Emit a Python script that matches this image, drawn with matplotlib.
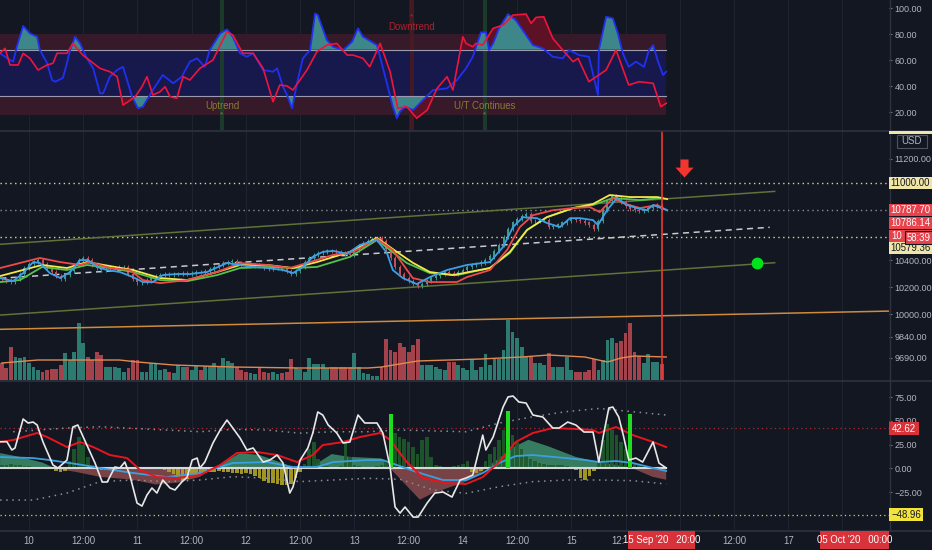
import numpy as np
import matplotlib
matplotlib.use("Agg")
import matplotlib.pyplot as plt
from matplotlib.lines import Line2D
from matplotlib.patches import Rectangle
from matplotlib.ticker import NullLocator

# ---- data (hours since 10 Sep 00:00) ----
candle_h = np.arange(-6, 141)
closes = [10262, 10250, 10238, 10262, 10300, 10345,
          10370, 10390, 10400,
          10375, 10345, 10310, 10280, 10262,
          10290, 10320, 10365, 10405, 10420,
          10400, 10370, 10345, 10330,
          10335, 10340, 10345, 10348, 10352,
          10300, 10260, 10235,
          10240, 10250, 10265, 10280, 10290, 10300,
          10290, 10295, 10300, 10305, 10295, 10305, 10315, 10310,
          10320, 10335, 10350, 10365, 10380, 10390, 10395,
          10380, 10365, 10355, 10360, 10365, 10355, 10345, 10338,
          10342, 10345, 10335, 10320, 10300,
          10320, 10350, 10390, 10420, 10440, 10455, 10465, 10475,
          10470, 10462, 10455, 10448, 10440,
          10480, 10510, 10530, 10545, 10560, 10570,
          10545, 10490, 10420, 10350, 10300, 10270, 10245, 10225, 10210,
          10225, 10245, 10265, 10285, 10300, 10315,
          10305, 10295,
          10310, 10330, 10350, 10365, 10375, 10385, 10400, 10430,
          10470, 10520, 10580, 10640, 10690, 10720, 10740, 10755,
          10700, 10705, 10710, 10712, 10660,
          10665, 10675, 10690, 10705, 10720,
          10712, 10700, 10690, 10670, 10640,
          10700, 10790, 10860, 10900,
          10880, 10850, 10820, 10800, 10790, 10780,
          10790, 10805, 10820, 10830, 10787.7]
first_open = 10270
volume = [17, 12, 33, 23, 22, 23, 17, 13, 10, 8, 10, 11, 11, 15,
          27, 20, 28, 57, 37, 23, 20, 28, 25, 13, 13, 13, 12, 8,
          12, 20, 20, 8, 8, 17, 17, 10, 11, 8, 7, 15, 13, 13,
          10, 14, 10, 14, 14, 17, 13, 22, 19, 17, 13, 10, 8, 7,
          6, 13, 8, 7, 8, 6, 7, 8, 21, 12, 11, 8, 22, 16,
          16, 16, 12, 13, 13, 13, 13, 13, 27, 13, 7, 6, 4, 4,
          13, 41, 30, 28, 37, 33, 28, 35, 41, 15, 15, 15, 13, 11,
          10, 18, 18, 15, 12, 10, 20, 10, 13, 26, 15, 21, 21, 30,
          60, 48, 42, 33, 23, 23, 17, 17, 15, 27, 13, 13, 13, 23,
          10, 8, 8, 8, 10, 21, 10, 20, 40, 42, 37, 39, 47, 57,
          28, 24, 17, 26, 18, 18, 16]
vol_ma_h = [-6, 2, 20, 24, 32, 45, 60, 75, 78, 82, 86, 100, 109, 115, 123, 128, 131, 134, 141]
vol_ma = [17, 20, 20, 18, 15, 13, 12, 12, 13, 16, 19, 21, 23, 25, 23, 18, 22, 24, 23]

# price moving averages
ma_blue_h = [-6.4, -3.5, -1.3, 0.9, 2.4, 4.6, 6.9, 9.1, 11.3, 13.1, 15.0, 17.3, 20.1, 23.0, 25.2, 27.4,
             29.6, 32.7, 35.6, 39.4, 43.8, 46.7, 49.6, 52.7, 56.2, 58.4, 60.6, 62.8, 65.0, 67.3, 70.4,
             73.2, 77.0, 79.2, 80.5, 82.7, 85.8, 88.7, 92.5, 96.9, 102.0, 104.9, 107.1, 109.3, 112.4,
             114.6, 117.5, 119.7, 121.9, 124.8, 125.9, 127.9, 130.1, 132.3, 134.5, 136.7, 138.1, 141.2]
ma_blue = [10268, 10245, 10305, 10388, 10381, 10305, 10268, 10313, 10403, 10403, 10351, 10328, 10313,
           10275, 10238, 10238, 10290, 10298, 10298, 10313, 10381, 10366, 10351, 10343, 10328, 10305,
           10351, 10427, 10465, 10473, 10450, 10518, 10556, 10457, 10328, 10268, 10223, 10275, 10328,
           10366, 10388, 10503, 10656, 10733, 10725, 10687, 10656, 10725, 10725, 10710, 10671, 10787,
           10883, 10828, 10804, 10787, 10828, 10787]
ma_red_h = [-6.4, -2.0, 2.4, 6.9, 11.3, 13.5, 17.9, 22.3, 25.2, 29.0, 35.0, 41.6, 46.7, 52.7, 57.7, 62.2,
            67.3, 71.7, 77.0, 80.5, 84.9, 88.7, 94.7, 96.9, 102.0, 105.8, 108.6, 111.5, 115.9, 120.4,
            124.1, 126.3, 129.2, 131.4, 135.2, 139.0, 141.2]
ma_red = [10343, 10381, 10419, 10388, 10366, 10388, 10343, 10328, 10253, 10230, 10253, 10313, 10381,
          10366, 10343, 10388, 10442, 10465, 10564, 10480, 10268, 10238, 10238, 10275, 10328, 10480,
          10656, 10748, 10787, 10804, 10812, 10772, 10883, 10843, 10804, 10828, 10787]
ma_yellow_h = [-6.4, 2.9, 8.4, 12.8, 17.9, 23.0, 29.0, 35.0, 41.6, 46.7, 52.7, 58.4, 63.7, 71.0, 77.0,
               81.4, 85.0, 88.7, 93.8, 102.0, 106.4, 110.2, 114.6, 120.4, 124.8, 128.5, 133.0, 139.0, 141.2]
ma_yellow = [10283, 10366, 10343, 10388, 10358, 10328, 10268, 10253, 10313, 10366, 10366, 10343, 10388,
             10465, 10572, 10465, 10381, 10313, 10290, 10343, 10465, 10633, 10733, 10804, 10836, 10907,
             10891, 10891, 10875]
ma_green_h = [-6.4, -2.0, 2.9, 8.4, 12.8, 17.9, 23.0, 29.0, 35.0, 41.6, 46.7, 52.7, 58.4, 63.7, 71.0,
              77.0, 83.6, 88.7, 94.7, 102.0, 106.4, 110.2, 114.6, 120.4, 124.8, 129.2, 135.2, 139.6]
ma_green = [10238, 10253, 10351, 10328, 10366, 10343, 10313, 10253, 10245, 10290, 10343, 10351, 10343,
            10351, 10427, 10556, 10381, 10305, 10290, 10343, 10457, 10633, 10733, 10804, 10828, 10883,
            10867, 10883]

# drawn lines on the price pane: (start h, start price, end h, end price)
channel_top = (-6.42, 10523, 165.0, 10936)
channel_bot = (-6.42, 9995, 165.0, 10383)
mid_dashed = (-6.42, 10266, 163.9, 10654)
support_line = (-6.42, 9892, 190.3, 10024)
level_hi = 11000.0
level_lo = 10579.36
last_price = 10787.70
bar_time = 140
arrow_at = (144.9, 11123)
dot_at = (161.1, 10383)

# top oscillator
osc_blue_h = [-6.4, -5.3, -3.5, -2.7, -1.3, 0.2, 1.8, 2.4, 4.0, 5.1, 5.8, 7.5, 8.4, 9.1, 10.2, 11.3,
              12.8, 14.2, 15.7, 16.4, 17.9, 19.5, 20.8, 22.8, 24.1, 25.2, 27.4, 29.6, 31.9, 33.8, 35.6,
              37.2, 38.9, 40.0, 42.3, 43.8, 45.1, 46.7, 48.2, 49.6, 51.8, 54.0, 54.9, 56.2, 57.1, 58.2,
              59.3, 60.6, 62.2, 63.3, 63.9, 65.9, 67.3, 69.5, 71.5, 72.8, 73.9, 77.0, 79.2, 80.5, 81.4,
              82.1, 83.2, 85.0, 87.2, 89.4, 92.5, 94.7, 96.7, 98.2, 100.0, 101.1, 101.8, 102.7, 104.0,
              106.0, 107.7, 111.5, 113.7, 115.9, 118.1, 119.5, 121.7, 123.9, 125.9, 126.1, 127.7, 129.2,
              130.3, 131.4, 132.7, 134.3, 136.1, 137.2, 138.1, 139.2, 140.3, 141.0]
osc_blue = [65.2, 62.5, 58.7, 70.2, 86.2, 80.5, 77.9, 67.7, 57.7, 44.6, 43.3, 46.2, 57.7, 67.7, 77.9,
            72.8, 61.3, 53.6, 34.4, 34.4, 47.2, 52.3, 54.8, 31.8, 22.8, 24.1, 36.9, 48.5, 42.1, 47.2,
            58.7, 61.3, 54.8, 67.7, 80.5, 83.6, 77.9, 65.2, 62.5, 65.2, 52.3, 51.0, 53.6, 39.5, 33.1,
            22.8, 42.1, 61.3, 67.7, 95.9, 94.6, 75.4, 70.2, 67.7, 74.1, 84.4, 77.9, 71.5, 42.1, 24.1,
            15.2, 20.2, 24.1, 21.5, 29.2, 36.9, 38.2, 44.6, 53.6, 62.5, 81.3, 81.3, 67.7, 72.8, 84.4,
            95.4, 90.8, 71.5, 69.0, 62.5, 61.3, 67.7, 63.8, 62.5, 33.1, 67.7, 93.3, 92.1, 80.5, 65.2,
            54.8, 58.7, 54.8, 67.7, 71.5, 58.7, 48.5, 51.0]
osc_red_h = [-6.4, -5.3, -4.2, -2.4, -1.3, 0.2, 2.0, 4.0, 5.3, 6.2, 8.4, 9.7, 11.9, 15.7, 17.9, 19.5,
             20.8, 21.9, 23.5, 25.0, 26.1, 27.4, 29.0, 30.1, 31.2, 32.7, 34.1, 35.6, 37.8, 40.7, 43.8,
             45.1, 47.3, 49.6, 51.8, 54.0, 55.5, 57.1, 58.4, 61.5, 63.7, 65.9, 68.1, 70.4, 71.7, 73.9,
             75.4, 77.7, 79.9, 81.6, 83.6, 85.8, 88.1, 90.3, 92.5, 93.8, 96.0, 96.7, 98.2, 98.9, 100.4,
             102.7, 104.9, 107.1, 110.0, 111.1, 112.2, 113.9, 115.9, 118.1, 120.4, 121.5, 123.9, 126.1,
             127.7, 129.9, 132.7, 135.0, 138.1, 139.8, 141.0]
osc_red = [65.2, 69.0, 56.2, 56.2, 65.2, 61.3, 52.3, 56.2, 57.5, 65.2, 65.2, 72.8, 63.8, 53.6, 51.0,
           47.2, 25.4, 27.9, 31.8, 39.5, 47.2, 33.1, 35.6, 39.5, 31.8, 30.5, 47.2, 44.6, 53.6, 60.0,
           81.8, 79.2, 65.2, 65.2, 53.6, 27.9, 40.8, 40.0, 36.9, 52.3, 66.4, 71.5, 72.8, 63.8, 63.8,
           61.3, 54.8, 72.8, 51.0, 22.8, 24.1, 15.2, 21.5, 38.2, 47.2, 36.9, 77.9, 72.8, 70.2, 72.8,
           71.5, 84.4, 86.9, 94.6, 95.4, 88.2, 92.8, 93.3, 76.7, 67.7, 58.7, 61.3, 43.3, 48.5, 52.3,
           67.7, 40.8, 43.3, 42.1, 24.1, 26.7]
osc_upper, osc_lower = 68, 32
band_top, band_bottom = 80, 18
signals = [(42.7, "Uptrend", "up"), (84.7, "Downtrend", "down"), (100.9, "U/T Continues", "up")]

# bottom momentum pane
mom_white_h = [-6.4, -4.9, -3.8, -3.1, -1.3, -0.2, 0.9, 1.8, 3.1, 5.3, 6.4, 8.4, 9.7, 10.8, 12.8, 14.6,
               16.2, 17.3, 19.0, 20.1, 21.2, 22.3, 23.9, 25.0, 26.1, 27.2, 28.3, 29.6, 31.2, 32.3, 33.8,
               35.0, 36.1, 37.2, 37.8, 38.9, 40.7, 42.3, 43.8, 45.1, 46.7, 48.2, 49.6, 51.8, 53.3, 54.9,
               56.2, 57.7, 58.4, 60.0, 61.7, 62.8, 63.9, 65.0, 66.2, 68.1, 69.5, 71.0, 72.8, 74.3, 77.0,
               78.3, 79.9, 81.0, 82.1, 83.2, 85.0, 86.1, 88.1, 89.8, 91.6, 93.6, 95.4, 96.7, 98.2, 100.4,
               101.1, 102.7, 104.9, 106.0, 107.1, 108.4, 110.0, 111.5, 113.7, 115.9, 117.3, 119.2, 121.0,
               122.8, 124.8, 126.1, 127.2, 128.3, 129.2, 130.5, 131.6, 132.7, 134.3, 135.8, 138.1, 139.4,
               141.0]
mom_white = [28, 28, 19.3, 21.4, 51.9, 47.7, 48.7, 45.6, 27.7, 3.5, 0.3, 8.7, 43.5, 45.6, 24.5, 5.6,
             -14.4, -14.4, 1.4, 0.3, 6.6, -7.1, -36.5, -39.7, -28.1, -20.7, -26, -12.3, -20.7, -22.8,
             -14.4, -9.2, 8.7, 10.8, 0.3, 6.6, 26.6, 40.3, 50.8, 42.4, 31.9, 19.3, 21.4, 6.6, 8.7, 14,
             5.6, -26, -19.7, 8.7, 21.4, 37.2, 59.3, 56.1, 45.6, 37.2, 26.6, 27.7, 56.1, 47.7, 47.7,
             37.2, 1.4, -40.7, -47.1, -40.7, -51.3, -51.3, -36.5, -26, -24.9, -30.2, -12.3, -10.2, -7.1,
             35, 19.3, 33, 64.5, 75.1, 76.1, 69.8, 68.7, 56.1, 54, 42.4, 42.4, 48.7, 45.6, 38.2, 38.2,
             6.6, 37.2, 63.5, 64.5, 54, 33, 8.7, 10.8, 6.6, 27.7, 5.6, 0.3]
mom_red_h = [-6.4, -3.5, 1.8, 4.0, 8.4, 11.3, 14.2, 17.9, 21.7, 24.6, 28.3, 32.7, 37.8, 42.3, 46.0,
             50.4, 54.9, 59.3, 62.8, 65.0, 69.5, 73.2, 77.7, 79.9, 83.6, 87.2, 92.5, 96.7, 100.4, 104.0,
             107.7, 111.5, 115.9, 121.0, 124.8, 126.1, 129.9, 133.6, 138.1, 141.0]
mom_red = [27.7, 29.8, 37.2, 32.9, 22.4, 27.7, 22.4, 14, 10.8, -1.8, -9.2, -10.2, -7.1, 3.5, 16.1,
           17.2, 14, 6.6, 14, 24.5, 27.7, 32.9, 37.2, 29.8, 6.6, -10.2, -15.5, -16.5, -9.2, 6.6, 27.7,
           37.2, 42.4, 41.4, 40.3, 37.2, 43.5, 35, 27.7, 22.4]
mom_blue_h = [-6.4, 0.9, 4.6, 11.9, 15.7, 23.0, 30.5, 37.8, 45.1, 52.7, 58.4, 63.7, 67.3, 74.8, 78.3,
              85.8, 91.6, 96.7, 100.4, 104.0, 107.7, 111.5, 118.8, 123.2, 126.1, 129.9, 133.6, 138.1, 141.0]
mom_blue = [11.9, 10.8, 8.7, 3.5, 0.3, -4.9, -9.2, -4.9, 5.6, 6.6, 1.4, 1.4, 6.6, 8.7, 8.7, -3.9,
            -12.3, -12.3, -4.9, 5.6, 12.9, 14, 10.8, 8.7, 6.6, 7.7, 5.6, 0.3, -2.8]
mom_area_h = [-6.4, -2, 3, 5.8, 10.6, 15.7, 23, 28, 33, 37.8, 40.7, 46.7, 51, 57, 58.4, 60, 62, 67, 71,
              78, 79.9, 86.5, 89.4, 96.7, 99, 101, 107.5, 110.5, 115, 121, 126, 130, 133.6, 138, 141]
mom_area = [16, 12, 6, 0, -4, -9, -12, -17, -15, -9, 0, 16, 14, 4, 0, -1, 0, 15, 12, 10.5, 0, -33,
            -26, -14, -9, 0, 23, 30, 23, 12, 6.6, 3.5, 0, -9, -12]
mom_hist = [3, 4, 5, 4, 3, 2, 2, 1, 1, 0, -1, -1, -3, -4, -3, 8, 20, 33, 25, 12, 3, -1, -2, -2,
            -2, -2, -1, -1, -1, -1, -1, -1, 0, -1, -1, -1, -2, -4, -6, -9, -12, -11, -9, -8, -6, -5, -4, -4,
            -3, -4, -4, -5, -5, -6, -5, -6, -8, -10, -13, -15, -15, -17, -18, -18, -16, -10, -4, 5, 20, 28, 10, 3,
            2, 1, 1, 2, 28, 12, 3, 2, 1, 1, 1, 2, 4, 8, 40, 37, 33, 31, 28, 22, 15, 30, 33, 12,
            4, 2, 1, 1, 2, 3, 5, 8, -4, -5, -3, 8, 15, 22, 30, 40, 44, 35, 28, 20, 14, 10, 8, 6,
            5, 4, 4, 3, 3, 2, 1, -2, -10, -12, -8, -3, 10, 30, 47, 40, 35, 28, 20, 12, 6, 3, 1, 0,
            -1, -1, 0]
mom_signal_h = [80, 106, 133]
mom_signal = [57, 60, 57]
band_up_h = [-3.5, 8.4, 15.7, 37.8, 45.1, 52.7, 59.9, 67.3, 74.8, 82.1, 96.7, 104.0, 111.5, 118.8, 126.1, 133.6, 141.0]
band_up = [38.5, 42.4, 43.8, 38.5, 41, 40.3, 37, 38.5, 38.5, 40.3, 38.5, 47.6, 54.3, 59.6, 63, 59.6, 56.1]
band_lo_h = [-6.4, 0.9, 8.4, 15.7, 23.0, 30.5, 37.8, 45.1, 52.7, 59.9, 67.3, 74.8, 82.1, 89.4, 96.7, 104.0,
             111.5, 118.8, 126.1, 133.6, 141.0]
band_lo = [-33.4, -33.4, -26, -14, -12.3, -14, -12.3, -8.8, -10.5, -14, -12.3, -10.5, -11.5, -22.8, -26.3,
           -19.4, -14, -12.3, -12.3, -13, -16.5]
mom_hi_level = 42.62
mom_lo_level = -48.96

x_ticks = [0, 12, 24, 36, 48, 60, 72, 84, 96, 108, 120, 156, 168]
x_labels = ["10", "12:00", "11", "12:00", "12", "12:00", "13", "12:00", "14", "12:00",
            "15", "12:00", "17"]
x_cut_label = "12:"       # label half hidden behind the cursor time tag

# ---- style ----
BG = "#131722"
TXT = "#b2b5be"
GRID = "#1f2330"
W, H = 932, 550
XMIN, XMAX = -6.42, 190.3
FS = 6.9
plt.rcParams["font.family"] = ["Liberation Sans Narrow", "Liberation Sans", "DejaVu Sans"]

fig = plt.figure(figsize=(W / 100, H / 100), dpi=100, facecolor=BG)


def rect(x0, y0, x1, y1):
    return [x0 / W, 1 - y1 / H, (x1 - x0) / W, (y1 - y0) / H]


ax_top = fig.add_axes(rect(0, 0, 889, 130))
ax_mid = fig.add_axes(rect(0, 131, 889, 380))
ax_bot = fig.add_axes(rect(0, 381, 889, 530))

# volume overlay on the price pane
vax = ax_mid.twinx()
vax.set_ylim(0, 249)
vax.set_xlim(XMIN, XMAX)
vax.axis("off")
vax.set_zorder(ax_mid.get_zorder() - 1)
ax_mid.patch.set_visible(False)
fig.add_artist(Rectangle(rect(0, 131, 889, 380)[:2], 889 / W, 249 / H,
                         transform=fig.transFigure, fc=BG, ec="none", zorder=-5))

for ax in (ax_top, ax_mid, ax_bot):
    ax.set_facecolor(BG)
    ax.set_xlim(XMIN, XMAX)
    for s in ax.spines.values():
        s.set_visible(False)
    ax.yaxis.tick_right()
    ax.tick_params(axis="y", colors="#787b86", labelcolor=TXT, labelsize=6.5, length=2.5, pad=1.5,
                   direction="out", left=False, labelleft=False, right=True, labelright=True)
    ax.tick_params(axis="x", length=0)
for ax in (ax_top, vax, ax_bot):
    for t in range(0, 181, 12):
        ax.axvline(t, color=GRID, lw=0.8, zorder=0)
ax_top.set_xticks([])
ax_mid.set_xticks([])

# ---- top oscillator ----
ax_top.set_ylim(6.15, 106.2)
band_x = [XMIN, 141]
ax_top.fill_between(band_x, osc_upper, band_top, color="#371a2a", lw=0, zorder=1)
ax_top.fill_between(band_x, band_bottom, osc_lower, color="#371a2a", lw=0, zorder=1)
ax_top.fill_between(band_x, osc_lower, osc_upper, color="#17194c", lw=0, zorder=1)
for t, name, kind in signals:
    col = "#1e3f2a" if kind == "up" else "#4a1a22"
    ax_top.axvspan(t - 0.4, t + 0.4, color=col, alpha=0.9, lw=0, zorder=1.5)
    if kind == "up":
        ax_top.text(t, 24.5, name, color="#8a7a33", fontsize=FS, ha="center", va="center", zorder=5)
        ax_top.text(t, 17.5, "*", color="#7a8a33", fontsize=6, ha="center", va="center", zorder=5)
    else:
        ax_top.text(t, 85.5, name, color="#b0202e", fontsize=FS, ha="center", va="center", zorder=5)
        ax_top.text(t, 93.5, "*", color="#c0202e", fontsize=6, ha="center", va="center", zorder=5)
rh, rv = np.array(osc_red_h), np.array(osc_red)
bh, bv = np.array(osc_blue_h), np.array(osc_blue)
ax_top.fill_between(rh, osc_upper, rv, where=rv > osc_upper, interpolate=True, color="#5c1224", lw=0, zorder=2)
ax_top.fill_between(rh, osc_lower, rv, where=rv < osc_lower, interpolate=True, color="#5c1224", lw=0, zorder=2)
ax_top.fill_between(bh, osc_upper, bv, where=bv > osc_upper, interpolate=True, color="#3d8689", lw=0, zorder=2.5)
ax_top.fill_between(bh, osc_lower, bv, where=bv < osc_lower, interpolate=True, color="#3d8689", lw=0, zorder=2.5)
ax_top.plot(band_x, [osc_upper] * 2, color="#9a9ab0", lw=0.8, zorder=3)
ax_top.plot(band_x, [osc_lower] * 2, color="#9a9ab0", lw=0.8, zorder=3)
ax_top.plot(bh, bv, color="#2130f0", lw=1.3, zorder=4)
ax_top.plot(rh, rv, color="#f0143c", lw=1.2, zorder=4)
ax_top.set_yticks([20, 40, 60, 80, 100])
ax_top.set_yticklabels(["20.00", "40.00", "60.00", "80.00", "100.00"])

# ---- price pane ----
ax_mid.set_yscale("log")
ax_mid.set_ylim(9534, 11427)
ax_mid.yaxis.set_minor_locator(NullLocator())
price_ticks = [9690, 9840, 10000, 10200, 10400, 11200]
ax_mid.set_yticks(price_ticks)
ax_mid.set_yticklabels(["%.2f" % p for p in price_ticks])

opens = [first_open] + closes[:-1]
up = [c >= o for o, c in zip(opens, closes)]
vcol = ["#2d7a70" if u else "#a3424a" for u in up]
vax.bar(candle_h, volume, width=0.85, color=vcol, lw=0, zorder=1)
vax.plot(vol_ma_h, vol_ma, color="#e08a52", lw=1.0, zorder=2)

for lvl, col in ((level_hi, "#d9d69a"), (level_lo, "#d9d69a"), (last_price, "#8a8e99")):
    ax_mid.axhline(lvl, color=col, lw=1.0, ls=(0, (1, 2.5)), zorder=2)
for seg, col, ls in ((channel_top, "#5f7238", "-"), (channel_bot, "#5f7238", "-"),
                     (mid_dashed, "#c8cad0", (0, (4, 3))), (support_line, "#d08a3a", "-")):
    ax_mid.plot([seg[0], seg[2]], [seg[1], seg[3]], color=col, lw=1.1, ls=ls, zorder=3)

ccol = ["#3d9a8b" if u else "#c2505a" for u in up]
lo_b = np.minimum(opens, closes)
hi_b = np.maximum(opens, closes)
ax_mid.vlines(candle_h, lo_b * 0.9985, hi_b * 1.0015, colors=ccol, lw=0.7, zorder=4)
ax_mid.bar(candle_h, hi_b - lo_b + 1.5, bottom=lo_b, width=0.45, color=ccol, lw=0, zorder=4)

ax_mid.plot(ma_green_h, ma_green, color="#55c24a", lw=1.3, zorder=5)
ax_mid.plot(ma_yellow_h, ma_yellow, color="#f2e84a", lw=1.3, zorder=5)
ax_mid.plot(ma_red_h, ma_red, color="#ef4a4a", lw=1.3, zorder=6)
ax_mid.plot(ma_blue_h, ma_blue, color="#3aa0e8", lw=1.3, zorder=7)

ax_mid.axvline(bar_time, color="#f0362f", lw=1.2, zorder=8)
arrow = [(-0.45, 1), (0.45, 1), (0.45, 0.1), (1, 0.1), (0, -1), (-1, 0.1), (-0.45, 0.1)]
ax_mid.plot(*arrow_at, marker=arrow, ms=13, color="#f0362f", mec="none", zorder=9)
ax_mid.plot(*dot_at, marker="o", ms=8.5, color="#00e31a", mec="none", zorder=9)

# ---- momentum pane ----
ax_bot.set_ylim(-64.9, 91.9)
ah, av = np.array(mom_area_h), np.array(mom_area)
ax_bot.fill_between(ah, 0, av, where=av >= 0, interpolate=True, color="#3e8f6c", alpha=0.85, lw=0, zorder=2)
ax_bot.fill_between(ah, 0, av, where=av <= 0, interpolate=True, color="#8b4b4d", alpha=0.85, lw=0, zorder=2)
hv = np.array(mom_hist)
hcol = ["#1f5a2c" if v >= 0 else "#b0a322" for v in hv]
ax_bot.bar(candle_h, hv, width=0.8, color=hcol, alpha=0.9, lw=0, zorder=2.5)
ax_bot.bar(mom_signal_h, mom_signal, width=0.9, color="#1edc1e", lw=0, zorder=6)
ax_bot.axhline(mom_hi_level, color="#b3262e", lw=0.9, ls=(0, (1, 2.5)), zorder=1)
ax_bot.axhline(mom_lo_level, color="#d6d24a", lw=0.9, ls=(0, (1, 2.5)), zorder=1)
ax_bot.plot(band_up_h, band_up, color="#8a8e99", lw=1.1, ls=(0, (1, 3)), zorder=3)
ax_bot.plot(band_lo_h, band_lo, color="#8a8e99", lw=1.1, ls=(0, (1, 3)), zorder=3)
ax_bot.plot([XMIN, 141], [0, 0], color="#d8d8d8", lw=1.5, zorder=4)
ax_bot.plot(mom_blue_h, mom_blue, color="#3aa0e0", lw=1.3, zorder=5)
ax_bot.plot(mom_red_h, mom_red, color="#e8141e", lw=1.4, zorder=5)
ax_bot.plot(mom_white_h, mom_white, color="#e8e8e8", lw=1.2, zorder=7)
ax_bot.set_yticks([-25, 0, 25, 50, 75])
ax_bot.set_yticklabels(["\u221225.00", "0.00", "25.00", "50.00", "75.00"])
ax_bot.set_xticks(x_ticks)
ax_bot.set_xticklabels(x_labels, color=TXT, fontsize=FS)
ax_bot.tick_params(axis="x", pad=4.5)
fig.text(625 / W, 1 - 540.5 / H, x_cut_label, color=TXT, fontsize=FS, ha="right", va="center")

# ---- frame lines ----
for yy in (130.5, 380.5, 530.5):
    fig.add_artist(Line2D([0, 1], [1 - yy / H] * 2, color="#2e323e", lw=1.2))
fig.add_artist(Line2D([889.5 / W] * 2, [1 - 531 / H, 1], color="#2e323e", lw=1.0))


def tag(x0, y0, x1, y1, text, fc, tc, z=10, ec="none", ha="center"):
    fig.add_artist(Rectangle((x0 / W, 1 - y1 / H), (x1 - x0) / W, (y1 - y0) / H,
                             transform=fig.transFigure, fc=fc, ec=ec, lw=0.8, zorder=z))
    tx = (x0 + x1) / 2 if ha == "center" else x0 + 2
    fig.text(tx / W, 1 - (y0 + y1) / 2 / H, text, color=tc, fontsize=FS,
             ha=ha, va="center", zorder=z + 0.5)


tag(889, 131, 932, 134, "", "#efe6a8", "#131722")
tag(897, 135, 927, 148, "USD", BG, TXT, ec="#50535e")
tag(889, 177, 932, 189, "11000.00", "#efe6a8", "#131722")
tag(889, 204, 932, 216, "%.2f" % last_price, "#e8434d", "white")
tag(889, 217, 932, 229, "10786.14", "#e8434d", "white")
tag(889, 230, 932, 243, "10", "#e8434d", "white", ha="left")
tag(905, 231, 932, 244, "58:39", "#e8434d", "white", z=11, ec="#131722")
tag(889, 242, 932, 254, "%.2f" % level_lo, "#efe6a8", "#131722")
tag(889, 422, 919, 435, "%.2f" % mom_hi_level, "#d8323a", "white")
tag(889, 508, 923, 521, "\u2212%.2f" % abs(mom_lo_level), "#f3e43c", "#131722")
tag(628, 531, 695, 549, "15 Sep '20   20:00", "#d8323a", "white")
tag(820, 531, 889, 549, "05 Oct '20   00:00", "#d8323a", "white")

fig.savefig("out.png", dpi=100, facecolor=BG)
